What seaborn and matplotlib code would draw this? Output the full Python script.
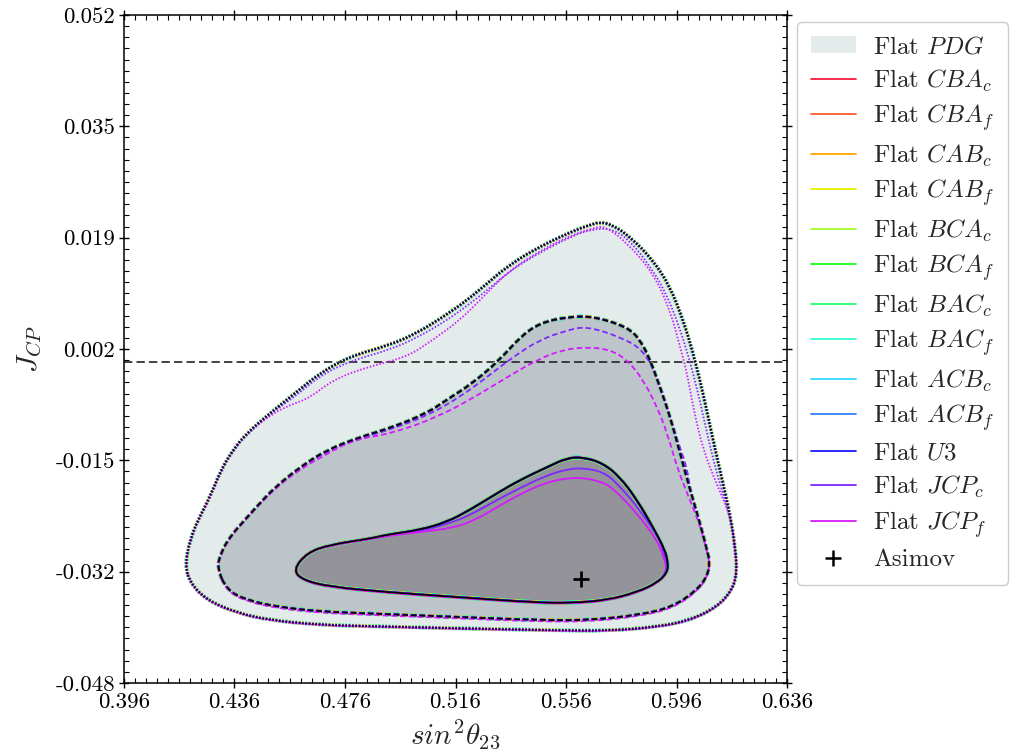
import numpy as np
import matplotlib

matplotlib.use("Agg")
import matplotlib.pyplot as plt
import seaborn as sns
from matplotlib.lines import Line2D
from matplotlib.patches import Patch, PathPatch
from matplotlib.path import Path
from matplotlib.ticker import AutoMinorLocator

sns.set_style("ticks")
plt.rcParams["font.family"] = "serif"
plt.rcParams["font.serif"] = ["cmr10", "DejaVu Serif"]
plt.rcParams["mathtext.fontset"] = "cm"
plt.rcParams["axes.formatter.use_mathtext"] = True
plt.rcParams["lines.scale_dashes"] = False

# ---- data ----------------------------------------------------------------
# contour outlines (sin^2 theta23, J_CP), Flat PDG prior
pdg_3sigma = [
    (0.4181, -0.0303), (0.4199, -0.0266), (0.4228, -0.0236), (0.4271, -0.0202),
    (0.4311, -0.0161), (0.4355, -0.0131), (0.4405, -0.0106), (0.4489, -0.0076),
    (0.4586, -0.0044), (0.4670, -0.0016), (0.4778, 0.0009), (0.4923, 0.0026),
    (0.5021, 0.0044), (0.5115, 0.0068), (0.5202, 0.0093), (0.5274, 0.0118),
    (0.5346, 0.0143), (0.5441, 0.0168), (0.5564, 0.0193), (0.5647, 0.0206),
    (0.5683, 0.0210), (0.5727, 0.0206), (0.5792, 0.0188), (0.5875, 0.0153),
    (0.5937, 0.0113), (0.5984, 0.0063), (0.6020, 0.0014), (0.6056, -0.0046),
    (0.6092, -0.0116), (0.6128, -0.0181), (0.6154, -0.0229), (0.6172, -0.0276),
    (0.6179, -0.0315), (0.6161, -0.0341), (0.6107, -0.0366), (0.6009, -0.0386),
    (0.5890, -0.0396), (0.5709, -0.0402), (0.5513, -0.0401), (0.5151, -0.0398),
    (0.4851, -0.0395), (0.4670, -0.0393), (0.4489, -0.0386), (0.4369, -0.0375),
    (0.4260, -0.0356), (0.4199, -0.0330),
]
pdg_2sigma = [
    (0.4297, -0.0308), (0.4311, -0.0285), (0.4344, -0.0261), (0.4391, -0.0239),
    (0.4445, -0.0214), (0.4507, -0.0187), (0.4597, -0.0157), (0.4695, -0.0131),
    (0.4814, -0.0112), (0.4934, -0.0097), (0.5057, -0.0076), (0.5129, -0.0056),
    (0.5223, -0.0031), (0.5321, 0.0004), (0.5394, 0.0038), (0.5466, 0.0059),
    (0.5564, 0.0068), (0.5658, 0.0069), (0.5781, 0.0053), (0.5828, 0.0034),
    (0.5864, 0.0004), (0.5900, -0.0037), (0.5937, -0.0082), (0.5973, -0.0136),
    (0.6009, -0.0191), (0.6045, -0.0241), (0.6070, -0.0281), (0.6081, -0.0300),
    (0.6070, -0.0321), (0.6034, -0.0341), (0.5947, -0.0366), (0.5828, -0.0378),
    (0.5647, -0.0386), (0.5466, -0.0386), (0.5151, -0.0381), (0.4851, -0.0376),
    (0.4670, -0.0373), (0.4514, -0.0366), (0.4405, -0.0356), (0.4333, -0.0341),
]
pdg_1sigma = [
    (0.4572, -0.0311), (0.4622, -0.0285), (0.4706, -0.0273), (0.4851, -0.0264),
    (0.4912, -0.0258), (0.5031, -0.0251), (0.5129, -0.0239), (0.5212, -0.0221),
    (0.5310, -0.0196), (0.5394, -0.0176), (0.5491, -0.0157), (0.5564, -0.0143),
    (0.5622, -0.0142), (0.5694, -0.0151), (0.5756, -0.0172), (0.5817, -0.0206),
    (0.5875, -0.0247), (0.5918, -0.0281), (0.5929, -0.0300), (0.5926, -0.0315),
    (0.5890, -0.0330), (0.5817, -0.0344), (0.5709, -0.0356), (0.5585, -0.0360),
    (0.5466, -0.0360), (0.5151, -0.0351), (0.4912, -0.0344), (0.4706, -0.0336),
    (0.4608, -0.0326),
]

# Flat JCP_c prior
jcpc_3sigma = [
    (0.4181, -0.0303), (0.4199, -0.0266), (0.4228, -0.0236), (0.4271, -0.0202),
    (0.4311, -0.0161), (0.4355, -0.0131), (0.4405, -0.0107), (0.4489, -0.0077),
    (0.4586, -0.0049), (0.4670, -0.0020), (0.4778, 0.0002), (0.4923, 0.0019),
    (0.5021, 0.0037), (0.5129, 0.0063), (0.5216, 0.0089), (0.5289, 0.0113),
    (0.5361, 0.0138), (0.5455, 0.0162), (0.5575, 0.0188), (0.5658, 0.0200),
    (0.5727, 0.0200), (0.5792, 0.0182), (0.5864, 0.0144), (0.5922, 0.0104),
    (0.5969, 0.0054), (0.6005, 0.0007), (0.6042, -0.0052), (0.6078, -0.0121),
    (0.6118, -0.0185), (0.6154, -0.0229), (0.6172, -0.0276), (0.6179, -0.0315),
    (0.6161, -0.0341), (0.6107, -0.0366), (0.6009, -0.0386), (0.5890, -0.0396),
    (0.5709, -0.0402), (0.5513, -0.0401), (0.5151, -0.0398), (0.4851, -0.0395),
    (0.4670, -0.0393), (0.4489, -0.0386), (0.4369, -0.0375), (0.4260, -0.0356),
    (0.4199, -0.0330),
]
jcpc_2sigma = [
    (0.4297, -0.0308), (0.4311, -0.0285), (0.4344, -0.0261), (0.4391, -0.0239),
    (0.4445, -0.0214), (0.4507, -0.0188), (0.4597, -0.0158), (0.4695, -0.0133),
    (0.4814, -0.0114), (0.4934, -0.0099), (0.5057, -0.0080), (0.5176, -0.0052),
    (0.5274, -0.0022), (0.5368, 0.0008), (0.5466, 0.0034), (0.5564, 0.0048),
    (0.5636, 0.0054), (0.5756, 0.0038), (0.5839, 0.0019), (0.5890, -0.0022),
    (0.5926, -0.0067), (0.5962, -0.0116), (0.5998, -0.0157), (0.6009, -0.0191),
    (0.6045, -0.0241), (0.6070, -0.0281), (0.6081, -0.0300), (0.6070, -0.0321),
    (0.6034, -0.0341), (0.5947, -0.0366), (0.5828, -0.0378), (0.5647, -0.0386),
    (0.5466, -0.0386), (0.5151, -0.0381), (0.4851, -0.0376), (0.4670, -0.0373),
    (0.4514, -0.0366), (0.4405, -0.0356), (0.4333, -0.0341),
]
jcpc_1sigma = [
    (0.4572, -0.0311), (0.4622, -0.0285), (0.4706, -0.0273), (0.4851, -0.0264),
    (0.4912, -0.0259), (0.5031, -0.0253), (0.5129, -0.0242), (0.5212, -0.0229),
    (0.5310, -0.0206), (0.5394, -0.0188), (0.5491, -0.0169), (0.5564, -0.0160),
    (0.5622, -0.0158), (0.5694, -0.0164), (0.5745, -0.0181), (0.5828, -0.0221),
    (0.5900, -0.0266), (0.5918, -0.0291), (0.5926, -0.0312), (0.5890, -0.0330),
    (0.5817, -0.0344), (0.5709, -0.0356), (0.5585, -0.0360), (0.5466, -0.0360),
    (0.5151, -0.0351), (0.4912, -0.0344), (0.4706, -0.0336), (0.4608, -0.0326),
]

# Flat JCP_f prior
jcpf_3sigma = [
    (0.4181, -0.0304), (0.4199, -0.0267), (0.4228, -0.0237), (0.4271, -0.0203),
    (0.4311, -0.0162), (0.4355, -0.0132), (0.4405, -0.0107), (0.4496, -0.0077),
    (0.4561, -0.0064), (0.4633, -0.0053), (0.4717, -0.0026), (0.4840, -0.0007),
    (0.4985, 0.0008), (0.5079, 0.0034), (0.5176, 0.0063), (0.5260, 0.0098),
    (0.5346, 0.0134), (0.5441, 0.0161), (0.5564, 0.0188), (0.5658, 0.0201),
    (0.5701, 0.0204), (0.5781, 0.0179), (0.5875, 0.0134), (0.5937, 0.0078),
    (0.5973, 0.0023), (0.5998, -0.0016), (0.6020, -0.0067), (0.6056, -0.0131),
    (0.6107, -0.0184), (0.6154, -0.0229), (0.6172, -0.0276), (0.6179, -0.0315),
    (0.6161, -0.0342), (0.6107, -0.0367), (0.6009, -0.0387), (0.5890, -0.0397),
    (0.5709, -0.0403), (0.5513, -0.0402), (0.5151, -0.0399), (0.4851, -0.0396),
    (0.4670, -0.0394), (0.4489, -0.0387), (0.4369, -0.0376), (0.4260, -0.0357),
    (0.4199, -0.0331),
]
jcpf_2sigma = [
    (0.4297, -0.0309), (0.4311, -0.0286), (0.4344, -0.0262), (0.4391, -0.0240),
    (0.4445, -0.0215), (0.4507, -0.0189), (0.4597, -0.0160), (0.4695, -0.0137),
    (0.4789, -0.0116), (0.4934, -0.0106), (0.5093, -0.0082), (0.5212, -0.0056),
    (0.5332, -0.0026), (0.5455, 0.0004), (0.5549, 0.0019), (0.5636, 0.0023),
    (0.5719, 0.0019), (0.5781, 0.0004), (0.5839, -0.0026), (0.5890, -0.0067),
    (0.5926, -0.0106), (0.5962, -0.0157), (0.5998, -0.0196), (0.6045, -0.0243),
    (0.6070, -0.0283), (0.6081, -0.0302), (0.6070, -0.0323), (0.6034, -0.0343),
    (0.5947, -0.0368), (0.5828, -0.0380), (0.5647, -0.0388), (0.5466, -0.0388),
    (0.5151, -0.0383), (0.4851, -0.0378), (0.4670, -0.0375), (0.4514, -0.0368),
    (0.4405, -0.0358), (0.4333, -0.0343),
]
jcpf_1sigma = [
    (0.4572, -0.0311), (0.4622, -0.0285), (0.4706, -0.0274), (0.4851, -0.0265),
    (0.4912, -0.0260), (0.5031, -0.0254), (0.5151, -0.0248), (0.5231, -0.0236),
    (0.5310, -0.0217), (0.5394, -0.0197), (0.5491, -0.0179), (0.5575, -0.0173),
    (0.5622, -0.0173), (0.5683, -0.0178), (0.5730, -0.0188), (0.5817, -0.0226),
    (0.5890, -0.0266), (0.5918, -0.0296), (0.5926, -0.0315), (0.5890, -0.0331),
    (0.5817, -0.0345), (0.5709, -0.0357), (0.5585, -0.0361), (0.5466, -0.0361),
    (0.5151, -0.0352), (0.4912, -0.0345), (0.4706, -0.0337), (0.4608, -0.0327),
]

prior_names = ["CBA_c", "CBA_f", "CAB_c", "CAB_f", "BCA_c", "BCA_f", "BAC_c",
               "BAC_f", "ACB_c", "ACB_f", "U3", "JCP_c", "JCP_f"]
prior_colors = ["#ff1a40", "#ff5c33", "#ffa500", "#e6f200", "#a6ff26", "#1aff1a",
                "#26ff73", "#33ffd2", "#33d9ff", "#3380ff", "#1a1aff", "#8026ff",
                "#d41aff"]

asimov_x = [0.5613]
asimov_y = [-0.0325]
jcp_zero = 0.0

x_ticks = [0.396, 0.436, 0.476, 0.516, 0.556, 0.596, 0.636]
y_tick_labels = ["-0.048", "-0.032", "-0.015", "0.002", "0.019", "0.035", "0.052"]

# ---- styling -------------------------------------------------------------
fill_colors = {"3": "#e3ebeb", "2": "#bdc4ca", "1": "#939399"}
level_ls = {"1": "-", "2": (0, (4.0, 2.2)), "3": (0, (1.1, 1.3))}
# wider lines drawn first so the overlapping priors show as a colour fringe
fringe_lw = {"BAC_f": 2.9, "BAC_c": 2.7, "BCA_f": 2.5, "ACB_c": 2.4, "BCA_c": 2.3,
             "CAB_f": 2.1, "CAB_c": 1.9, "CBA_f": 1.8, "CBA_c": 1.7, "ACB_f": 1.6,
             "U3": 1.5}

pdg = {"3": pdg_3sigma, "2": pdg_2sigma, "1": pdg_1sigma}
own = {
    "JCP_c": {"3": jcpc_3sigma, "2": jcpc_2sigma, "1": jcpc_1sigma},
    "JCP_f": {"3": jcpf_3sigma, "2": jcpf_2sigma, "1": jcpf_1sigma},
}


def smooth_path(pts):
    # closed outline drawn as quadratic Bezier segments through edge midpoints
    p = np.array(pts)
    mid = (p + np.roll(p, -1, axis=0)) / 2
    verts = [mid[-1]]
    codes = [Path.MOVETO]
    for i in range(len(p)):
        verts += [p[i], mid[i]]
        codes += [Path.CURVE3, Path.CURVE3]
    return Path(np.array(verts), codes)


def draw_line(ax, pts, color, lw, ls, z):
    ax.add_patch(PathPatch(smooth_path(pts), fill=False, edgecolor=color,
                           lw=lw, linestyle=ls, joinstyle="round", zorder=z))


fig = plt.figure(figsize=(10.22, 7.49), dpi=100)
ax = fig.add_axes([0.1213, 0.0881, 0.6488, 0.8919])

for lvl in ["3", "2", "1"]:
    ax.add_patch(PathPatch(smooth_path(pdg[lvl]), facecolor=fill_colors[lvl],
                           lw=0, zorder=1))

ax.axhline(jcp_zero, color="#222222", lw=1.2, ls=(0, (6, 3)), zorder=2)

order = sorted(fringe_lw, key=lambda k: -fringe_lw[k])
for lvl in ["3", "2", "1"]:
    for name in order:
        c = prior_colors[prior_names.index(name)]
        draw_line(ax, pdg[lvl], c, fringe_lw[name], level_ls[lvl], 3)
    for name in ["JCP_c", "JCP_f"]:
        c = prior_colors[prior_names.index(name)]
        draw_line(ax, own[name][lvl], c, 1.3, level_ls[lvl], 4)
    draw_line(ax, pdg[lvl], "black", 1.2, level_ls[lvl], 5)

sns.scatterplot(x=asimov_x, y=asimov_y, marker="+", s=120, color="black",
                linewidth=2.0, ax=ax, zorder=6, legend=False)

ax.set_xlim(0.396, 0.636)
ax.set_ylim(-0.048, 0.052)
ax.set_xticks(x_ticks)
ax.set_xticklabels([f"{t:.3f}" for t in x_ticks])
y_ticks = np.linspace(-0.048, 0.052, len(y_tick_labels))
ax.set_yticks(y_ticks)
ax.set_yticklabels(y_tick_labels)
ax.xaxis.set_minor_locator(AutoMinorLocator(10))
ax.yaxis.set_minor_locator(AutoMinorLocator(10))
ax.tick_params(which="both", top=True, right=True, colors="black")
ax.tick_params(which="major", direction="inout", length=7, width=1.0,
               labelsize=16.5, pad=3)
ax.tick_params(which="minor", direction="in", length=3.5, width=0.8)
for sp in ax.spines.values():
    sp.set_color("black")
    sp.set_linewidth(1.1)

ax.set_xlabel(r"$sin^2\theta_{23}$", fontsize=21, labelpad=4)
ax.set_ylabel(r"$J_{CP}$", fontsize=21, labelpad=8)

handles = [Patch(facecolor=fill_colors["3"], edgecolor="none", label="Flat $PDG$")]
for name, c in zip(prior_names, prior_colors):
    handles.append(Line2D([], [], color=c, lw=1.3, label=f"Flat ${name}$"))
handles.append(Line2D([], [], color="black", marker="+", ls="none", ms=11,
                      mew=1.8, label="Asimov"))
leg = fig.legend(handles=handles, loc="upper left",
                 bbox_to_anchor=(797 / 1022, 1 - 22 / 749), borderaxespad=0,
                 fontsize=18, frameon=True, fancybox=True, framealpha=1,
                 edgecolor="#cccccc", labelspacing=0.36, handlelength=1.8,
                 handletextpad=0.7, borderpad=0.55)

fig.savefig("out.png", dpi=100)
